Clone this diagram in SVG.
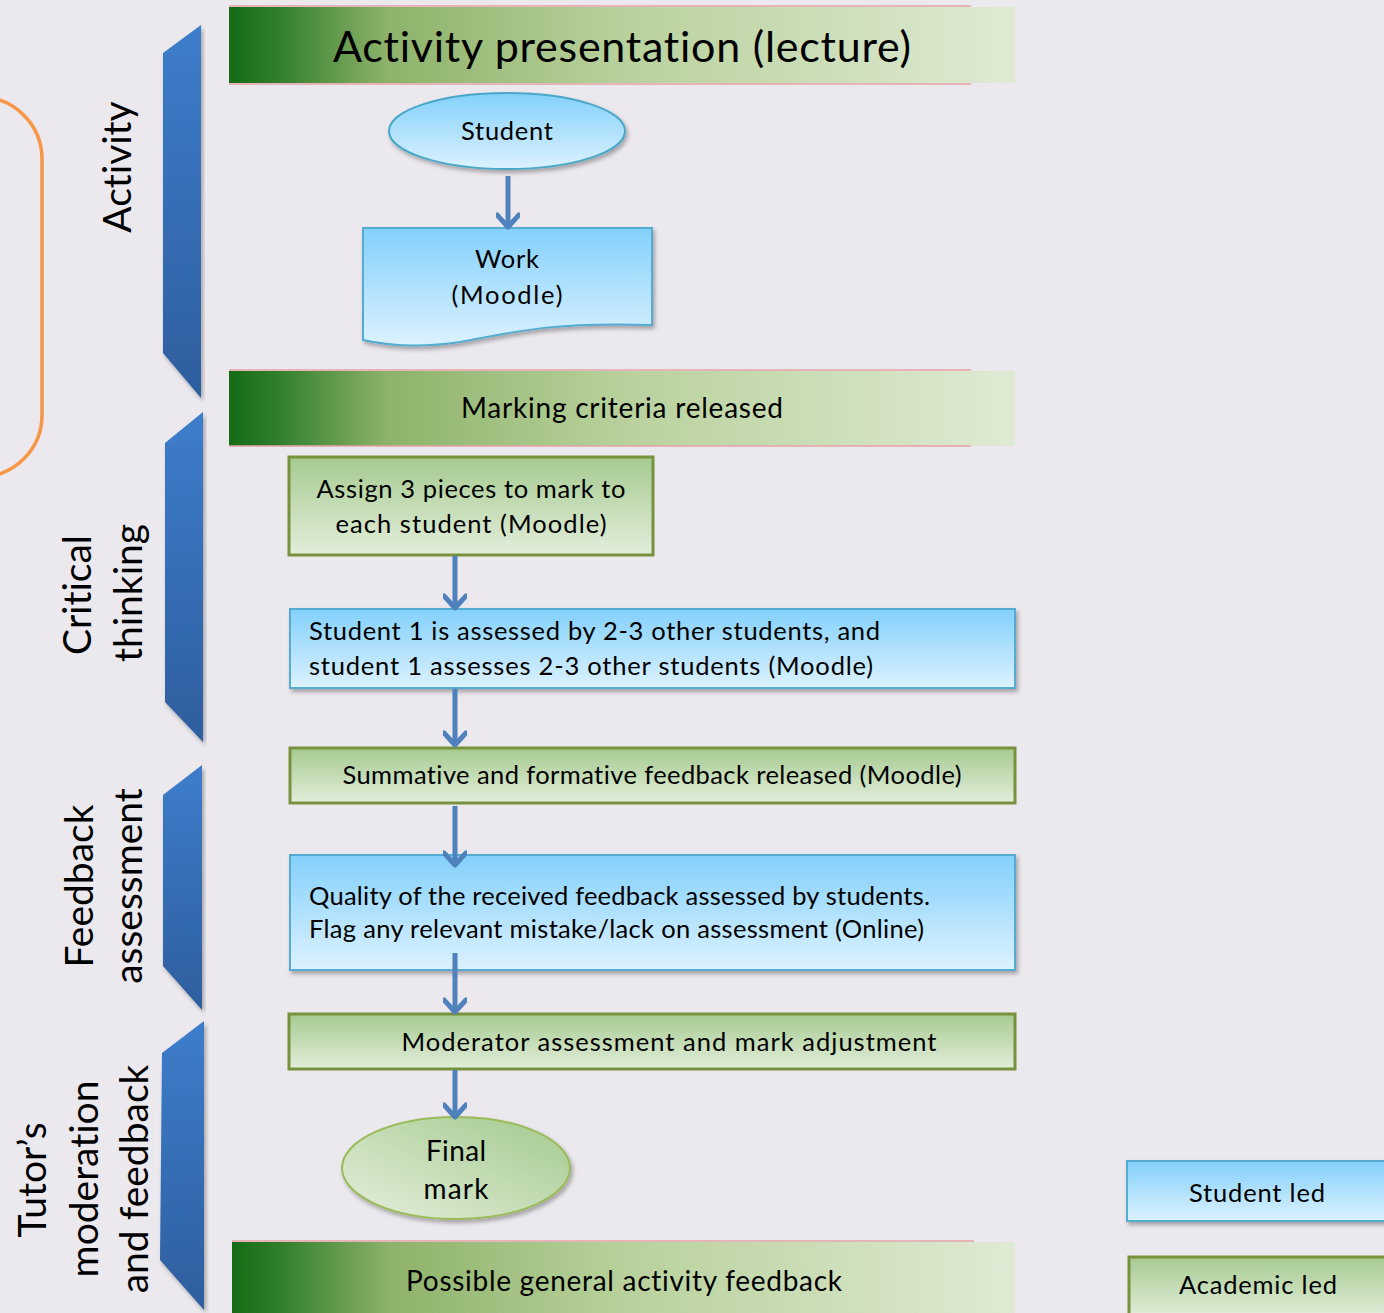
<svg xmlns="http://www.w3.org/2000/svg" width="1384" height="1313" viewBox="0 0 1384 1313">
<defs>
<linearGradient id="hdr" x1="0" y1="0" x2="1" y2="0">
<stop offset="0" stop-color="#156c15"/>
<stop offset="0.06" stop-color="#2f7e2c"/>
<stop offset="0.2" stop-color="#8db26a"/>
<stop offset="0.5" stop-color="#b8d19c"/>
<stop offset="1" stop-color="#dfead4"/>
</linearGradient>
<linearGradient id="blueG" x1="0" y1="0" x2="0" y2="1">
<stop offset="0" stop-color="#83d0fb"/>
<stop offset="1" stop-color="#dcf2ff"/>
</linearGradient>
<linearGradient id="greenG" x1="0" y1="0" x2="0" y2="1">
<stop offset="0" stop-color="#a6ca90"/>
<stop offset="1" stop-color="#e2eedb"/>
</linearGradient>
<linearGradient id="ellG" x1="1" y1="0" x2="0" y2="1">
<stop offset="0" stop-color="#a3c98d"/>
<stop offset="1" stop-color="#e4efdd"/>
</linearGradient>
<linearGradient id="chev" x1="0" y1="0" x2="0" y2="1">
<stop offset="0" stop-color="#3d7dcb"/>
<stop offset="1" stop-color="#2e5e9e"/>
</linearGradient>
<filter id="sh" x="-10%" y="-10%" width="120%" height="130%">
<feDropShadow dx="2" dy="3" stdDeviation="2" flood-color="#000" flood-opacity="0.3"/>
</filter>
<marker id="ah" viewBox="0 0 24 24" refX="19" refY="12" markerWidth="24" markerHeight="24" markerUnits="userSpaceOnUse" orient="auto">
<path d="M7,1 L19,12 L7,23" fill="none" stroke="#4f81bd" stroke-width="5" stroke-linecap="round" stroke-linejoin="round"/>
</marker>
</defs>
<style>
text{font-family:Lato,"Liberation Sans",sans-serif;fill:#000;font-variant-ligatures:none;}
.b{font-size:25.5px;}
.side{font-size:39px;}
.hline{stroke:#e4a3a3;stroke-width:1.5;}
.blue{fill:url(#blueG);stroke:#55acd0;stroke-width:2;filter:url(#sh);}
.green{fill:url(#greenG);stroke:#76923c;stroke-width:3;}
.conn{stroke:#4f81bd;stroke-width:5;fill:none;marker-end:url(#ah);}
.chev{fill:url(#chev);filter:url(#sh);}
</style>
<rect width="1384" height="1313" fill="#ebe8ee"/>

<g id="bracket">
<rect x="-100" y="97" width="142" height="380" rx="62" fill="none" stroke="#f79646" stroke-width="3.5"/>
</g>

<g id="lane-activity">
<polygon class="chev" points="201,25 163,53 163,353 201,398"/>
<text class="side" transform="translate(131,167) rotate(-90)" text-anchor="middle">Activity</text>
</g>
<g id="lane-critical">
<polygon class="chev" points="203,412 165,443 165,702 203,742"/>
<text class="side" transform="translate(91,595) rotate(-90)" text-anchor="middle">Critical</text>
<text class="side" transform="translate(142,593) rotate(-90)" text-anchor="middle">thinking</text>
</g>
<g id="lane-feedback">
<polygon class="chev" points="202,765 163,795 163,966 202,1010"/>
<text class="side" transform="translate(93,886) rotate(-90)" text-anchor="middle">Feedback</text>
<text class="side" transform="translate(142,886) rotate(-90)" text-anchor="middle">assessment</text>
</g>
<g id="lane-tutor">
<polygon class="chev" points="204,1021 162,1053 160,1260 204,1310"/>
<text class="side" transform="translate(46,1180) rotate(-90)" text-anchor="middle">Tutor’s</text>
<text class="side" transform="translate(98,1179) rotate(-90)" text-anchor="middle">moderation</text>
<text class="side" transform="translate(148,1179) rotate(-90)" text-anchor="middle">and feedback</text>
</g>

<g id="header-activity">
<rect x="229" y="7" width="786" height="76" fill="url(#hdr)"/>
<line class="hline" x1="229" y1="6" x2="971" y2="6"/>
<line class="hline" x1="229" y1="84" x2="971" y2="84"/>
<text x="622" y="62" font-size="43" text-anchor="middle" textLength="578">Activity presentation (lecture)</text>
</g>
<g id="header-marking">
<rect x="229" y="371" width="786" height="75" fill="url(#hdr)"/>
<line class="hline" x1="229" y1="370" x2="971" y2="370"/>
<line class="hline" x1="229" y1="446" x2="971" y2="446"/>
<text x="622" y="418" font-size="28" text-anchor="middle" textLength="322">Marking criteria released</text>
</g>
<g id="header-general">
<rect x="232" y="1242" width="783" height="71" fill="url(#hdr)"/>
<line class="hline" x1="232" y1="1241" x2="974" y2="1241"/>
<text x="624" y="1291" font-size="28" text-anchor="middle" textLength="436">Possible general activity feedback</text>
</g>

<g id="node-student">
<ellipse cx="507" cy="131" rx="118" ry="38" fill="url(#blueG)" stroke="#4aa8c8" stroke-width="2" filter="url(#sh)"/>
<text x="507" y="140" class="b" text-anchor="middle" textLength="92">Student</text>
</g>
<g id="node-work">
<path d="M363,228 H652 V325 C560,322 520,330 460,342 C420,348 390,346 363,340 Z" fill="url(#blueG)" stroke="#55acd0" stroke-width="2" filter="url(#sh)"/>
<text x="507" y="268" class="b" text-anchor="middle" textLength="64">Work</text>
<text x="507" y="304" class="b" text-anchor="middle" textLength="111">(Moodle)</text>
</g>
<g id="node-assign">
<rect class="green" x="289" y="457" width="364" height="98"/>
<text x="471" y="498" class="b" text-anchor="middle" textLength="309">Assign 3 pieces to mark to</text>
<text x="471" y="533" class="b" text-anchor="middle" textLength="271">each student (Moodle)</text>
</g>
<g id="node-peer">
<rect class="blue" x="290" y="609" width="725" height="79"/>
<text x="309" y="640" class="b" textLength="571">Student 1 is assessed by 2-3 other students, and</text>
<text x="309" y="675" class="b" textLength="564">student 1 assesses 2-3 other students (Moodle)</text>
</g>
<g id="node-summative">
<rect class="green" x="290" y="748" width="725" height="55"/>
<text x="652" y="784" class="b" text-anchor="middle" textLength="619">Summative and formative feedback released (Moodle)</text>
</g>
<g id="node-quality">
<rect class="blue" x="290" y="855" width="725" height="115"/>
<text x="309" y="905" class="b" textLength="621">Quality of the received feedback assessed by students.</text>
<text x="309" y="938" class="b" textLength="615">Flag any relevant mistake/lack on assessment (Online)</text>
</g>
<g id="node-moderator">
<rect class="green" x="289" y="1014" width="726" height="55"/>
<text x="669" y="1051" class="b" text-anchor="middle" textLength="535">Moderator assessment and mark adjustment</text>
</g>
<g id="node-final">
<ellipse cx="456" cy="1168" rx="114" ry="51" fill="url(#ellG)" stroke="#9bbb59" stroke-width="2" filter="url(#sh)"/>
<text x="456" y="1161" font-size="28" text-anchor="middle" textLength="60">Final</text>
<text x="456" y="1199" font-size="28" text-anchor="middle" textLength="65">mark</text>
</g>

<g id="legend-student">
<rect class="blue" x="1127" y="1161" width="300" height="60"/>
<text x="1257" y="1202" class="b" text-anchor="middle" textLength="136">Student led</text>
</g>
<g id="legend-academic">
<rect class="green" x="1129" y="1257" width="300" height="60"/>
<text x="1258" y="1294" class="b" text-anchor="middle" textLength="158">Academic led</text>
</g>

<g id="connectors">
<line class="conn" x1="508" y1="176" x2="508" y2="227"/>
<line class="conn" x1="455" y1="556" x2="455" y2="608"/>
<line class="conn" x1="455" y1="689" x2="455" y2="745"/>
<line class="conn" x1="455" y1="806" x2="455" y2="865"/>
<line class="conn" x1="455" y1="953" x2="455" y2="1012"/>
<line class="conn" x1="455" y1="1070" x2="455" y2="1117"/>
</g>
</svg>
